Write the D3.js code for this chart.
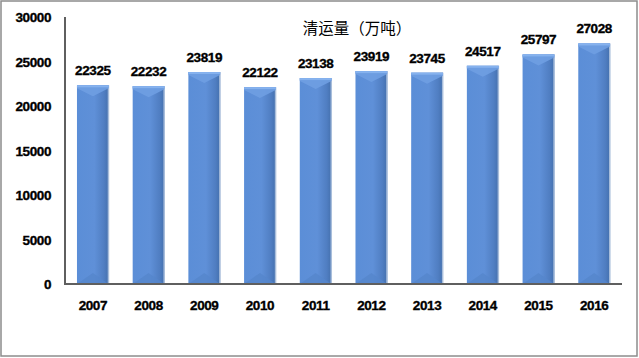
<!DOCTYPE html>
<html>
<head>
<meta charset="utf-8">
<script src="https://cdn.jsdelivr.net/npm/d3@7"></script>
<style>
  body { margin: 0; background: #fff; }
</style>
</head>
<body>
<script>
var years = ["2007","2008","2009","2010","2011","2012","2013","2014","2015","2016"];
var volumes = [22325, 22232, 23819, 22122, 23138, 23919, 23745, 24517, 25797, 27028];
var yTicks = [0, 5000, 10000, 15000, 20000, 25000, 30000];
var title = "清运量（万吨）";

var W = 639, H = 358;
var svg = d3.select("body").append("svg")
            .attr("width", W)
            .attr("height", H);

var defs = svg.append("defs");
var grad = defs.append("linearGradient").attr("id", "barGrad")
               .attr("x1", "0").attr("x2", "1").attr("y1", "0").attr("y2", "0");
grad.append("stop").attr("offset", "0").attr("stop-color", "#5b8ed7");
grad.append("stop").attr("offset", "0.55").attr("stop-color", "#5f90d8");
grad.append("stop").attr("offset", "0.85").attr("stop-color", "#507ec2");
grad.append("stop").attr("offset", "1").attr("stop-color", "#4470ad");

// outer frame
svg.append("rect")
   .attr("x", 1).attr("y", 1)
   .attr("width", 636).attr("height", 355)
   .attr("fill", "#fff")
   .attr("stroke", "#8c8c8c")
   .attr("stroke-width", 1.5);

var plotL = 65, plotR = 622, plotT = 17, plotB = 284;

var x = d3.scaleBand().domain(years).range([plotL, plotR]).paddingInner(0.43).paddingOuter(0.215);
var y = d3.scaleLinear().domain([0, 30000]).range([plotB, plotT]);

var numFont = "Liberation Sans, Arial, sans-serif";

function numStyle(sel) {
  sel.attr("font-family", numFont)
     .attr("font-weight", "bold")
     .attr("font-size", 13.5)
     .attr("letter-spacing", -0.4)
     .attr("stroke", "#000")
     .attr("stroke-width", 0.35);
}

// y labels
svg.append("g").selectAll("text")
   .data(yTicks).enter().append("text")
   .attr("x", 51)
   .attr("y", function(d) { return y(d) + 5; })
   .attr("text-anchor", "end")
   .call(numStyle)
   .text(function(d) { return d; });

// bars
var bw = x.bandwidth();
var bars = svg.append("g").selectAll("g")
   .data(volumes).enter().append("g");

bars.append("rect")
   .attr("x", function(d, i) { return x(years[i]); })
   .attr("y", function(d) { return y(d); })
   .attr("width", bw)
   .attr("height", function(d) { return y(0) - y(d); })
   .attr("fill", "url(#barGrad)");

// right edge highlight
bars.append("rect")
   .attr("x", function(d, i) { return x(years[i]) + bw - 1; })
   .attr("y", function(d) { return y(d); })
   .attr("width", 1.5)
   .attr("height", function(d) { return y(0) - y(d); })
   .attr("fill", "#a9bedb");

// top bevel
bars.append("path")
   .attr("d", function(d, i) {
     var x0 = x(years[i]), yt = y(d);
     return "M" + x0 + "," + yt + "L" + (x0 + bw) + "," + yt +
            "L" + (x0 + bw) + "," + (yt + 3) + "L" + (x0 + bw / 2) + "," + (yt + 11) +
            "L" + x0 + "," + (yt + 3) + "Z";
   })
   .attr("fill", "#6f9fe2")
   .attr("opacity", 0.9);
bars.append("rect")
   .attr("x", function(d, i) { return x(years[i]); })
   .attr("y", function(d) { return y(d); })
   .attr("width", bw)
   .attr("height", 2)
   .attr("fill", "#86b2ee");

// bottom bevel
bars.append("path")
   .attr("d", function(d, i) {
     var x0 = x(years[i]), yb = y(0);
     return "M" + x0 + "," + yb + "L" + (x0 + bw) + "," + yb +
            "L" + (x0 + bw / 2) + "," + (yb - 11) + "Z";
   })
   .attr("fill", "#5586cc")
   .attr("opacity", 0.8);

// value labels
svg.append("g").selectAll("text")
   .data(volumes).enter().append("text")
   .attr("x", function(d, i) { return x(years[i]) + bw / 2; })
   .attr("y", function(d) { return y(d) - 10; })
   .attr("text-anchor", "middle")
   .call(numStyle)
   .text(function(d) { return d; });

// axes lines
svg.append("line")
   .attr("x1", plotL).attr("x2", plotL)
   .attr("y1", plotT).attr("y2", plotB)
   .attr("stroke", "#5f5f5f").attr("stroke-width", 2);
svg.append("line")
   .attr("x1", plotL - 1).attr("x2", plotR)
   .attr("y1", plotB).attr("y2", plotB)
   .attr("stroke", "#5f5f5f").attr("stroke-width", 2);

// x labels
svg.append("g").selectAll("text")
   .data(years).enter().append("text")
   .attr("x", function(d) { return x(d) + bw / 2; })
   .attr("y", 310)
   .attr("text-anchor", "middle")
   .call(numStyle)
   .text(function(d) { return d; });

// title
svg.append("text")
   .attr("x", 357)
   .attr("y", 34)
   .attr("text-anchor", "middle")
   .attr("font-family", "Noto Sans CJK SC, sans-serif")
   .attr("font-size", 15.5)
   .text(title);
</script>
</body>
</html>
